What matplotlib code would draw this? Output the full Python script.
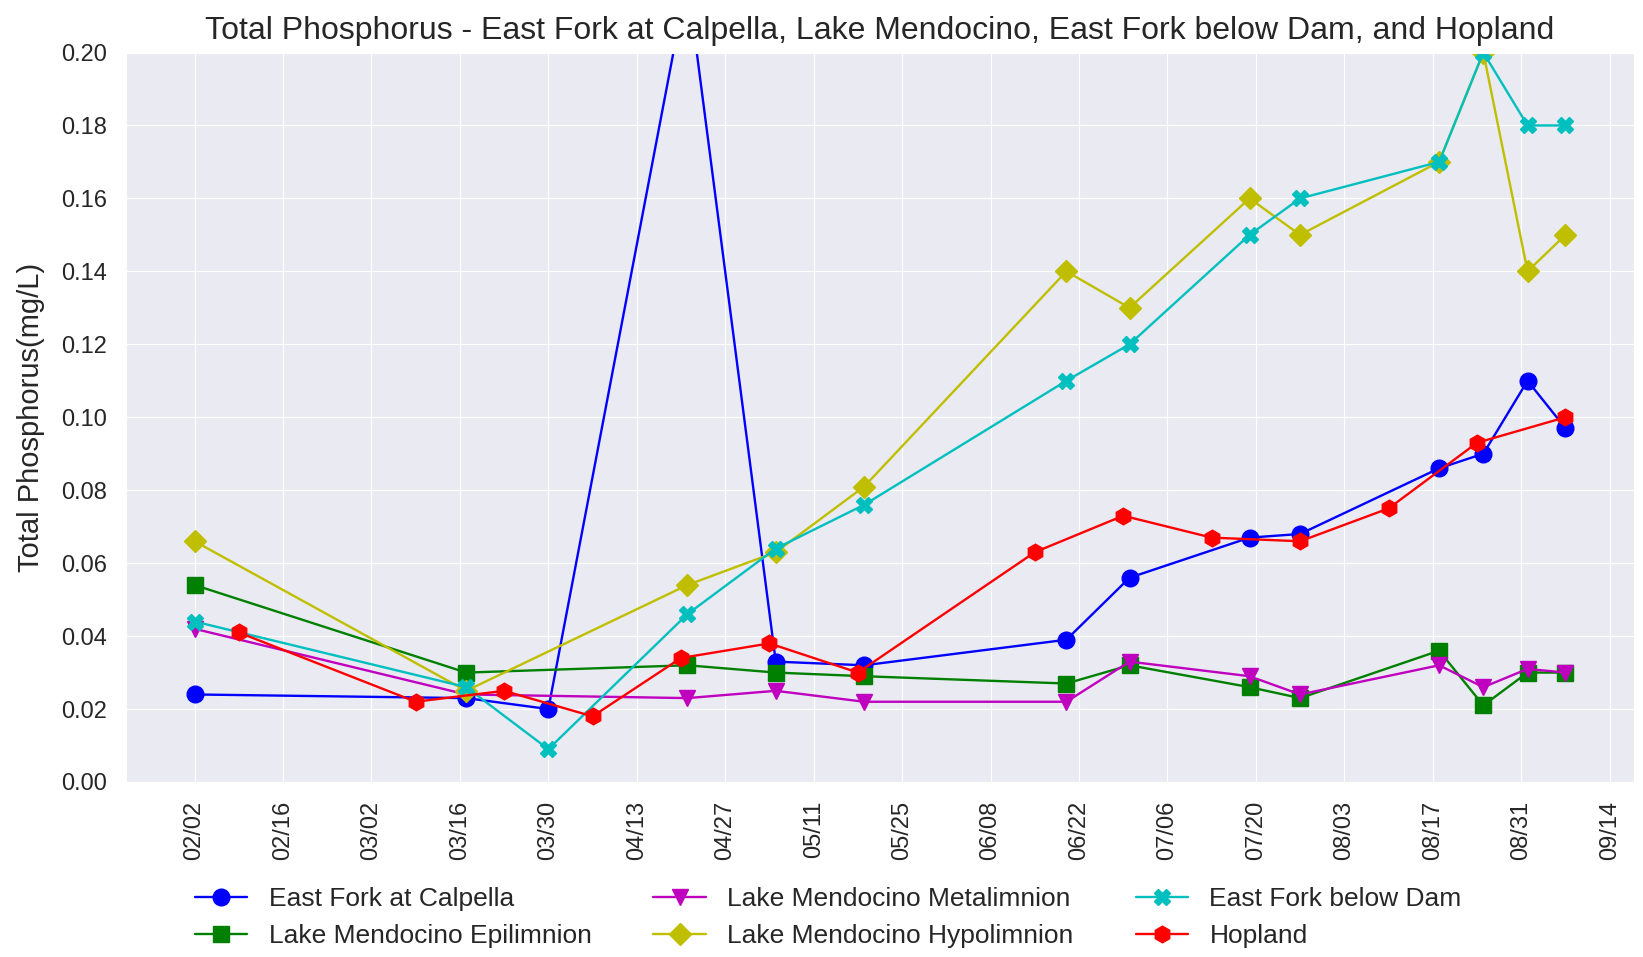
import numpy as np
import pandas as pd
import matplotlib
matplotlib.use('Agg')
import matplotlib.pyplot as plt
import matplotlib.dates as mdates
import seaborn as sns

# ---- data ----
site_dates = ['2018-02-02', '2018-03-17', '2018-03-30', '2018-04-21', '2018-05-05', '2018-05-19',
              '2018-06-20', '2018-06-30', '2018-07-19', '2018-07-27', '2018-08-18', '2018-08-25',
              '2018-09-01', '2018-09-07']
lake_dates = ['2018-02-02', '2018-03-17', '2018-04-21', '2018-05-05', '2018-05-19', '2018-06-20',
              '2018-06-30', '2018-07-19', '2018-07-27', '2018-08-18', '2018-08-25', '2018-09-01',
              '2018-09-07']
hopland_dates = ['2018-02-09', '2018-03-09', '2018-03-23', '2018-04-06', '2018-04-20', '2018-05-04',
                 '2018-05-18', '2018-06-15', '2018-06-29', '2018-07-13', '2018-07-27', '2018-08-10',
                 '2018-08-24', '2018-09-07']

calpella = [0.024, 0.023, 0.020, 0.22, 0.033, 0.032, 0.039, 0.056, 0.067, 0.068, 0.086, 0.090, 0.110, 0.097]
epilimnion = [0.054, 0.030, 0.032, 0.030, 0.029, 0.027, 0.032, 0.026, 0.023, 0.036, 0.021, 0.030, 0.030]
metalimnion = [0.042, 0.024, 0.023, 0.025, 0.022, 0.022, 0.033, 0.029, 0.024, 0.032, 0.026, 0.031, 0.030]
hypolimnion = [0.066, 0.025, 0.054, 0.063, 0.081, 0.140, 0.130, 0.160, 0.150, 0.170, 0.200, 0.140, 0.150]
below_dam = [0.044, 0.026, 0.009, 0.046, 0.064, 0.076, 0.110, 0.120, 0.150, 0.160, 0.170, 0.200, 0.180, 0.180]
hopland = [0.041, 0.022, 0.025, 0.018, 0.034, 0.038, 0.030, 0.063, 0.073, 0.067, 0.066, 0.075, 0.093, 0.100]

tick_dates = pd.date_range('2018-02-02', '2018-09-14', freq='14D')

sns.set_style('darkgrid')
plt.rcParams['font.family'] = ['Liberation Sans', 'DejaVu Sans']

fig = plt.figure(figsize=(16.43, 9.57), dpi=100)
ax = fig.add_axes([126 / 1643, 1 - 782 / 957, (1634 - 126) / 1643, (782 - 52.5) / 957])

lw = 1.7
ms = 12
ax.plot(pd.to_datetime(site_dates), calpella, 'b-o', lw=lw, ms=ms, label='East Fork at Calpella')
ax.plot(pd.to_datetime(lake_dates), epilimnion, 'g-s', lw=lw, ms=ms - 1, label='Lake Mendocino Epilimnion')
ax.plot(pd.to_datetime(lake_dates), metalimnion, 'm-v', lw=lw, ms=ms, label='Lake Mendocino Metalimnion')
ax.plot(pd.to_datetime(lake_dates), hypolimnion, 'y-D', lw=lw, ms=ms - 1, label='Lake Mendocino Hypolimnion')
ax.plot(pd.to_datetime(site_dates), below_dam, 'c-X', lw=lw, ms=ms, label='East Fork below Dam')
ax.plot(pd.to_datetime(hopland_dates), hopland, 'r-h', lw=lw, ms=ms, label='Hopland')

ax.set_ylim(0, 0.20)
ax.set_yticks(np.arange(0, 0.201, 0.02))
ax.yaxis.set_major_formatter(matplotlib.ticker.FormatStrFormatter('%.2f'))
ax.set_xticks(tick_dates)
ax.xaxis.set_major_formatter(mdates.DateFormatter('%m/%d'))
ax.tick_params(axis='x', labelrotation=90, labelsize=17, colors='.15', pad=10)
ax.tick_params(axis='y', labelsize=17, colors='.15', pad=10)

ax.set_ylabel('Total Phosphorus(mg/L)', fontsize=21, color='.15', labelpad=12)
ax.set_title('Total Phosphorus - East Fork at Calpella, Lake Mendocino, East Fork below Dam, and Hopland',
             fontsize=23, color='.15', pad=10)

fig.legend(loc='upper left', bbox_to_anchor=(0.104, 0.098), ncol=3, fontsize=19, frameon=False,
           columnspacing=2.35)

fig.savefig('out.png', dpi=100)
